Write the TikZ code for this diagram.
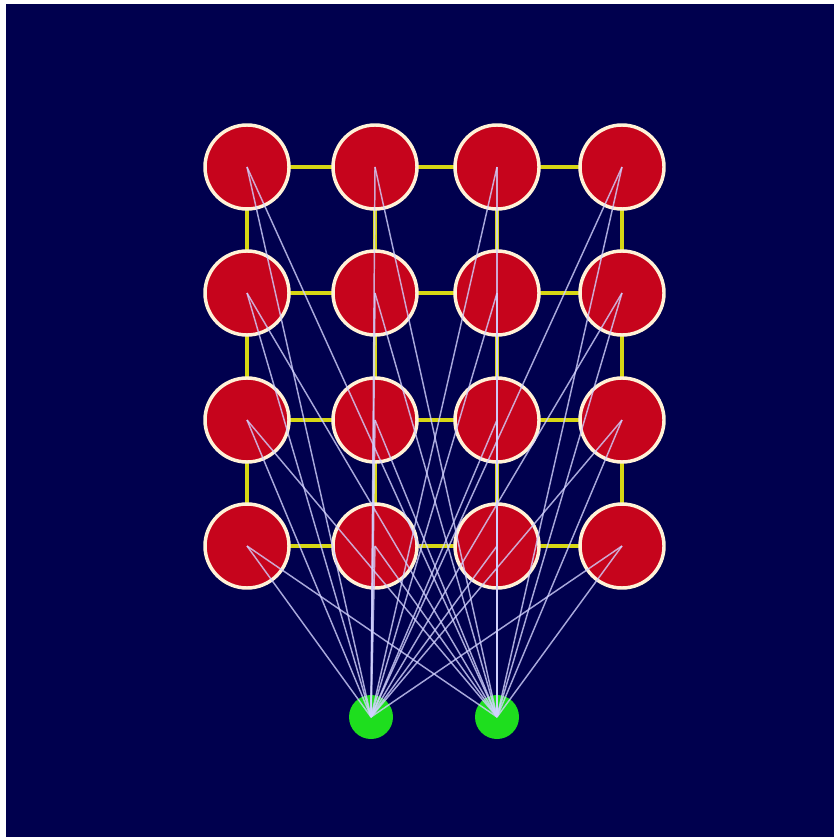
\documentclass[tikz,border=0pt]{standalone}
\begin{document}
\begin{tikzpicture}[x=0.75pt,y=-0.75pt,
  bg/.style={fill={rgb,255:red,0;green,0;blue,78}},
  rednode/.style={circle,minimum size=63pt,inner sep=0pt,fill={rgb,255:red,198;green,4;blue,28},draw={rgb,255:red,255;green,242;blue,215},line width=2.6pt},
  greennode/.style={circle,minimum size=33pt,inner sep=0pt,fill={rgb,255:red,30;green,222;blue,30}},
  gridedge/.style={draw={rgb,255:red,215;green,215;blue,20},line width=2.4pt},
  link/.style={draw={rgb,255:red,210;green,210;blue,255},line width=1.1pt,opacity=0.8}]
\useasboundingbox (0,0) rectangle (834,837);
\fill[white] (0,0) rectangle (834,837);
\fill[bg] (6,4) rectangle (834,837);
% node positions
\foreach \c/\x in {1/247,2/375,3/497,4/622}{
  \foreach \r/\y in {1/167,2/293,3/420,4/546}{
    \coordinate (p\r\c) at (\x,\y);
  }
}
% grid edges
\foreach \r in {1,2,3,4}{
  \draw[gridedge] (p\r1) -- (p\r2) -- (p\r3) -- (p\r4);
}
\foreach \c in {1,2,3,4}{
  \draw[gridedge] (p1\c) -- (p2\c) -- (p3\c) -- (p4\c);
}
% red nodes
\foreach \r in {1,2,3,4}{
  \foreach \c in {1,2,3,4}{
    \node[rednode] (r\r\c) at (p\r\c) {};
  }
}
% green nodes
\node[greennode] (g1) at (371,717) {};
\node[greennode] (g2) at (497,717) {};
% links
\foreach \r in {1,2,3,4}{
  \foreach \c in {1,2,3,4}{
    \draw[link] (r\r\c.center) -- (g1.center);
    \draw[link] (r\r\c.center) -- (g2.center);
  }
}
\end{tikzpicture}
\end{document}
